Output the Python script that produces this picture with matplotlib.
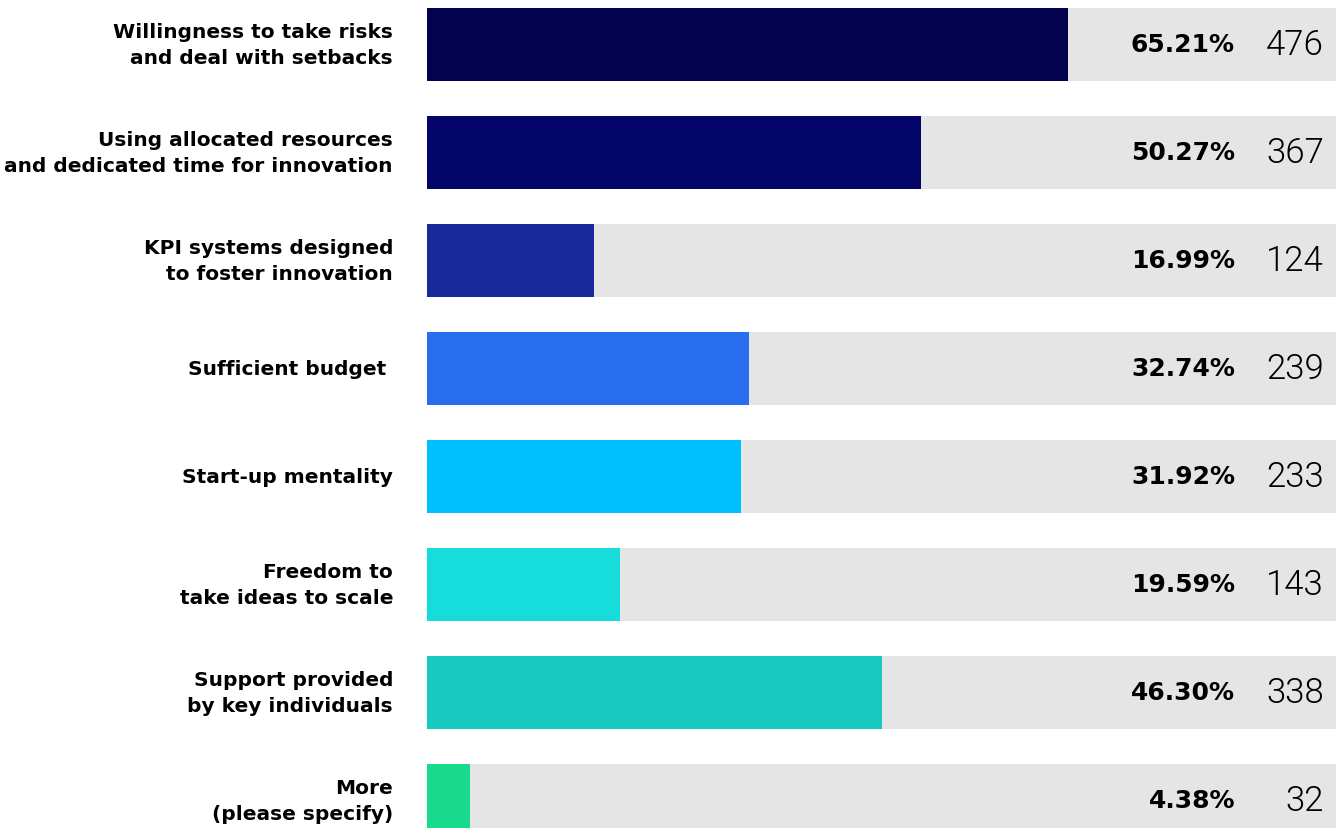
import numpy as np
import matplotlib.pyplot as plt

labels = ["Willingness to take risks\nand deal with setbacks",
          "Using allocated resources\nand dedicated time for innovation",
          "KPI systems designed\nto foster innovation",
          "Sufficient budget ",
          "Start-up mentality",
          "Freedom to\ntake ideas to scale",
          "Support provided\nby key individuals",
          "More\n(please specify)"]
shares = [65.21, 50.27, 16.99, 32.74, 31.92, 19.59, 46.30, 4.38]
counts = [476, 367, 124, 239, 233, 143, 338, 32]
colors = ["#02024f", "#020468", "#18299b", "#2a6ef0",
          "#00bfff", "#16dcdc", "#18c9c0", "#19d98c"]

fig = plt.figure(figsize=(13.36, 8.29), dpi=100)
ax = fig.add_axes([427 / 1336, 0, 909 / 1336, 1])

y = np.arange(len(shares))
xmax = 909 / 983 * 100
# grey track behind each bar, then the share itself
ax.barh(y, [xmax] * len(y), height=0.667, color="#e5e5e5")
ax.barh(y, shares, height=0.667, color=colors)

ax.set_xlim(0, xmax)
ax.set_ylim((829 - 45.5) / 108, -45.5 / 108)
ax.axis("off")

for i in range(len(y)):
    ax.text(-34 / 983 * 100, i, labels[i], ha="right", va="center",
            fontsize=14.5, fontweight="bold", linespacing=1.45)
    ax.text(xmax - 101 / 983 * 100, i, f"{shares[i]:.2f}%", ha="right",
            va="center", fontsize=18, fontweight="bold")
    ax.text(xmax - 12 / 983 * 100, i, str(counts[i]), ha="right",
            va="center", fontsize=25, family="Roboto", fontweight=300)

fig.savefig("out.png", dpi=100)
